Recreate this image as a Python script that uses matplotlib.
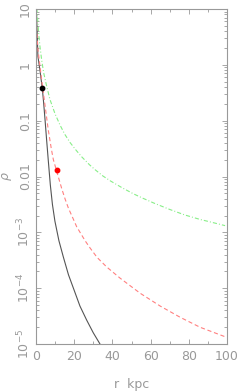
import numpy as np
import matplotlib
matplotlib.use("Agg")
import matplotlib.pyplot as plt
from matplotlib.ticker import FixedLocator, FixedFormatter, MultipleLocator, NullFormatter

# Curves: r in kpc, log10 of density
r_black = [0.3, 1.0, 2.0, 3.3, 4.0, 4.7, 5.5, 6.4, 7.5, 8.6, 9.9, 12.0, 14.3,
           17.0, 19.9, 23.0, 26.5, 30.0, 33.5, 35.0]
lg_black = [0.9, 0.15, -0.08, -0.42, -0.68, -0.97, -1.32, -1.70, -2.15, -2.50,
            -2.80, -3.15, -3.44, -3.76, -4.03, -4.32, -4.57, -4.80, -5.0, -5.1]

r_red = [0.1, 0.4, 1.0, 2.1, 3.3, 4.7, 6.4, 8.0, 9.1, 11.2, 13.5, 15.2, 17.0,
         19.5, 21.3, 25.7, 28.3, 32.0, 37.0, 44.0, 54.5, 65.0, 75.4, 85.9, 99.0]
lg_red = [1.2, 0.6, 0.28, -0.03, -0.36, -0.72, -1.16, -1.50, -1.70, -1.95,
          -2.22, -2.40, -2.57, -2.76, -2.90, -3.15, -3.28, -3.45, -3.62, -3.82,
          -4.09, -4.32, -4.52, -4.70, -4.87]

r_green = [0.2, 0.5, 1.0, 1.5, 2.1, 3.0, 4.0, 5.5, 7.3, 10.0, 12.6, 15.0, 17.8,
           21.0, 24.0, 28.0, 31.0, 35.0, 39.0, 45.0, 51.0, 56.0, 62.0, 70.0,
           78.0, 86.0, 92.0, 99.0]
lg_green = [1.3, 1.0, 0.75, 0.52, 0.32, 0.08, -0.14, -0.37, -0.62, -0.88,
            -1.08, -1.24, -1.39, -1.53, -1.65, -1.79, -1.88, -1.99, -2.08,
            -2.20, -2.31, -2.39, -2.48, -2.59, -2.69, -2.77, -2.82, -2.88]

# marked points
dot_black = (3.3, 0.38)
dot_red = (11.2, 0.0129)

ytick_vals = [1e-5, 1e-4, 1e-3, 1e-2, 1e-1, 1, 10]
ytick_labels = [r'$10^{-5}$', r'$10^{-4}$', r'$10^{-3}$', '0.01', '0.1', '1', '10']
xtick_vals = [0, 20, 40, 60, 80, 100]

grey = '#999999'
plt.rcParams['lines.scale_dashes'] = False
plt.rcParams['mathtext.fontset'] = 'dejavusans'

fig = plt.figure(figsize=(2.4, 3.91), dpi=100)
ax = fig.add_axes([36/240, 47/391, 191/240, 335/391])

ax.plot(r_black, 10**np.array(lg_black), color='#555555', lw=0.8)
ax.plot(r_red, 10**np.array(lg_red), color='#ff8080', lw=0.8, ls=(0, (3, 2)))
ax.plot(r_green, 10**np.array(lg_green), color='#88ee88', lw=0.8,
        ls=(0, (3, 1.5, 0.7, 1.5)))
ax.plot(*dot_black, 'o', color='black', ms=3.2)
ax.plot(*dot_red, 'o', color='red', ms=3.2)

ax.set_yscale('log')
ax.set_xlim(0, 100)
ax.set_ylim(1e-5, 10)

ax.xaxis.set_major_locator(FixedLocator(xtick_vals))
ax.xaxis.set_minor_locator(MultipleLocator(10))
ax.yaxis.set_major_locator(FixedLocator(ytick_vals))
ax.yaxis.set_major_formatter(FixedFormatter(ytick_labels))
ax.yaxis.set_minor_formatter(NullFormatter())

for s in ax.spines.values():
    s.set_color(grey)
    s.set_linewidth(0.8)
ax.tick_params(which='both', direction='in', top=True, right=True,
               color=grey, labelcolor=grey, labelsize=9, width=0.6)
ax.tick_params(which='major', length=3.6)
ax.tick_params(which='minor', length=2.0)
ax.tick_params(axis='y', which='major', pad=3)
ax.tick_params(axis='x', which='major', pad=4)
for lbl in ax.get_yticklabels():
    lbl.set_rotation(90)
    lbl.set_va('center')

ax.set_xlabel('r  kpc', color=grey, fontsize=9, labelpad=11)
ax.set_ylabel(r'$\rho$', color=grey, fontsize=9, labelpad=1)

fig.savefig('out.png', dpi=100)
